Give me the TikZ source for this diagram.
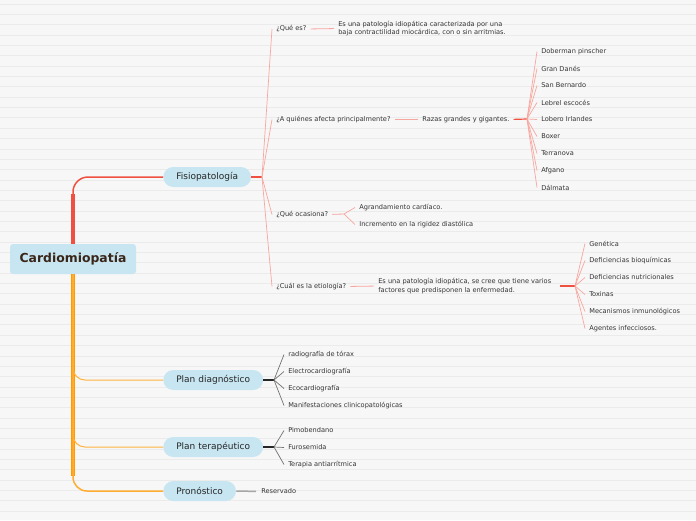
\documentclass[tikz,border=0pt]{standalone}
\usepackage{fontspec}
\setmainfont{DejaVu Sans}
\usetikzlibrary{positioning, calc}
\definecolor{topicblue}{HTML}{C7E6F1}
\definecolor{branchred}{HTML}{F0503F}
\definecolor{branchorange}{HTML}{FF9A00}
\definecolor{lightred}{HTML}{F7A79F}
\definecolor{stripe}{HTML}{EBEBEB}
\definecolor{paper}{HTML}{F7F7F7}
\definecolor{leaftext}{HTML}{333333}
\definecolor{titlebrown}{HTML}{3A2519}

\begin{document}
\begin{tikzpicture}[x=1pt, y=-1pt, semithick,
  root/.style={rectangle, rounded corners=3pt, fill=topicblue, text=titlebrown, font=\fontsize{12.4}{14}\selectfont\bfseries, minimum width=126pt, minimum height=30pt},
  topic/.style={rectangle, rounded corners=10pt, fill=topicblue, text=black!85, font=\fontsize{9}{10}\selectfont, minimum height=20pt, inner xsep=13pt, anchor=west},
  leaf/.style={anchor=west, inner sep=0pt, text=leaftext, font=\fontsize{6.6}{8.5}\selectfont, align=left},
  link/.style={draw=lightred, line width=0.8pt, shorten <=4pt, shorten >=4pt},
  fan/.style={draw=lightred, line width=0.7pt},
  stem/.style={draw=branchred, line width=1.2pt, shorten <=4pt},
  grayfan/.style={draw=black!55, line width=0.7pt},
  blackstem/.style={draw=black!85, line width=1.2pt}]
  \useasboundingbox (0,0) rectangle (696,520);
  \fill[paper] (0,0) rectangle (696,520);
  \foreach \k in {0,...,49}
    \draw[stripe, line width=0.8pt] (0,4+10.35*\k) -- (696,4+10.35*\k);

  % central topic and main branches
  \node[root] (cardio) at (73,259) {Cardiomiopatía};
  \node[topic] (fisio) at (163,177) {Fisiopatología};
  \node[topic] (diag) at (163,380) {Plan diagnóstico};
  \node[topic] (terap) at (163,447) {Plan terapéutico};
  \node[topic] (pron) at (163,491) {Pronóstico};

  \draw[branchred, line width=4pt] (cardio.north) -- ++(0,-50);
  \draw[branchred, line width=1.5pt, rounded corners=15pt] (cardio.north) |- (fisio.west);
  \draw[branchorange, line width=4pt] (cardio.south) -- (73,476);
  \draw[branchorange!75, line width=1pt, rounded corners=12pt] (cardio.south) |- (diag.west);
  \draw[branchorange!75, line width=1pt, rounded corners=12pt] (cardio.south) |- (terap.west);
  \draw[branchorange!80, line width=1.5pt, rounded corners=14pt] (cardio.south) |- (pron.west);

  % Fisiopatologia
  \coordinate (fisiofork) at (262,177);
  \node[leaf] (quees) at (276,29) {¿Qué es?};
  \node[leaf] (quedef) at (338,28.5) {Es una patología idiopática caracterizada por una\\baja contractilidad miocárdica, con o sin arritmias.};
  \node[leaf] (afecta) at (276,119.5) {¿A quiénes afecta principalmente?};
  \node[leaf] (razas) at (422,119.5) {Razas grandes y gigantes.};
  \node[leaf] (ocasiona) at (276,214.5) {¿Qué ocasiona?};
  \node[leaf] (agrand) at (359,207.5) {Agrandamiento cardíaco.};
  \node[leaf] (rigidez) at (359,224.5) {Incremento en la rigidez diastólica};
  \node[leaf] (etiol) at (276,286.5) {¿Cuál es la etiología?};
  \node[leaf] (etiodef) at (378,286) {Es una patología idiopática, se cree que tiene varios\\factores que predisponen la enfermedad.};
  \coordinate (razfork) at (527,119);
  \coordinate (ocafork) at (344,214);
  \coordinate (etiofork) at (575,286);

  \draw[branchred, line width=1.2pt] (fisio.east) -- (fisiofork);
  \path[fan]
    (fisiofork) edge ($(quees.west)+(-4,0)$)
    (fisiofork) edge ($(afecta.west)+(-4,0)$)
    (fisiofork) edge ($(ocasiona.west)+(-4,0)$)
    (fisiofork) edge ($(etiol.west)+(-4,0)$);
  \path[link]
    (quees.east) edge (quedef.west)
    (afecta.east) edge (razas.west)
    (etiol.east) edge (etiodef.west);
  \draw[link, shorten >=0pt] (ocasiona.east) -- (ocafork);
  \path[fan]
    (ocafork) edge ($(agrand.west)+(-4,0)$)
    (ocafork) edge ($(rigidez.west)+(-4,0)$);
  \draw[stem] (razas.east) -- (razfork);
  \draw[stem, shorten <=9pt] (etiodef.east) -- (etiofork);

  \foreach \txt [count=\i from 0] in {Doberman pinscher, Gran Danés, San Bernardo, Lebrel escocés, Lobero Irlandes, Boxer, Terranova, Afgano, Dálmata}{
    \node[leaf] (raza\i) at (541,51.5+17*\i) {\txt};
    \draw[fan] (razfork) -- ($(raza\i.west)+(-4,0)$);
  }
  \foreach \txt [count=\i from 0] in {Genética, Deficiencias bioquímicas, Deficiencias nutricionales, Toxinas, Mecanismos inmunológicos, Agentes infecciosos.}{
    \node[leaf] (causa\i) at (589,243.5+17*\i) {\txt};
    \draw[fan] (etiofork) -- ($(causa\i.west)+(-4,0)$);
  }

  % Plan diagnostico
  \coordinate (diagfork) at (274,380);
  \draw[blackstem] (diag.east) -- (diagfork);
  \foreach \txt [count=\i from 0] in {radiografía de tórax, Electrocardiografía, Ecocardiografía, Manifestaciones clinicopatológicas}{
    \node[leaf] (prueba\i) at (288,354.5+17*\i) {\txt};
    \draw[grayfan] (diagfork) -- ($(prueba\i.west)+(-4,0)$);
  }

  % Plan terapeutico
  \coordinate (terapfork) at (274,447);
  \draw[blackstem] (terap.east) -- (terapfork);
  \foreach \txt [count=\i from 0] in {Pimobendano, Furosemida, Terapia antiarrítmica}{
    \node[leaf] (trat\i) at (288,430.5+17*\i) {\txt};
    \draw[grayfan] (terapfork) -- ($(trat\i.west)+(-4,0)$);
  }

  % Pronostico
  \node[leaf] (reserv) at (261,491.5) {Reservado};
  \draw[black!35, line width=1.5pt, shorten >=5pt] (pron.east) -- (reserv.west);
\end{tikzpicture}
\end{document}
